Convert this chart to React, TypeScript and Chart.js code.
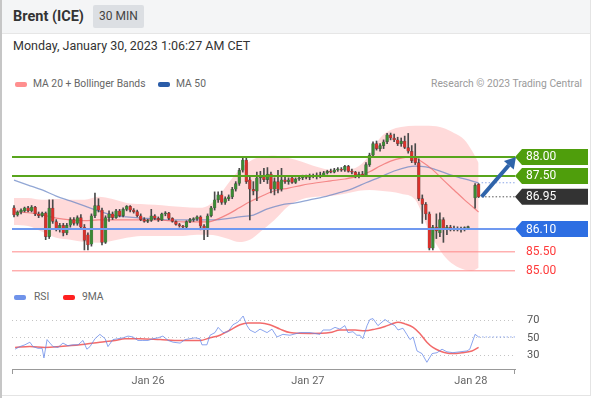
import React, { useEffect, useRef } from "react";
import { Chart, registerables } from "chart.js";
Chart.register(...registerables);

// ---------- candle data (index 130 = weekend gap) ----------
const openP = [86.66,86.47,86.55,86.58,86.66,86.58,86.68,86.5,86.45,86.52,
 85.9,86.65,86.3,86.1,86.2,86.0,86.2,86.35,86.25,86.4,
 86.15,85.95,85.7,86.45,86.72,86.6,85.75,86.4,86.5,86.4,
 86.58,86.45,86.62,86.7,86.6,86.56,86.45,86.35,86.3,86.33,
 86.45,86.38,86.34,86.5,86.52,86.38,86.3,86.22,86.18,86.15,
 86.3,86.35,86.37,86.42,86.18,86.1,86.45,86.66,86.87,87.0,
 86.8,86.9,86.95,87.15,87.3,87.65,87.92,87.4,87.15,87.1,
 87.45,87.5,87.4,87.55,87.15,87.35,87.15,87.4,87.35,87.45,
 87.33,87.42,87.45,87.48,87.46,87.5,87.48,87.52,87.5,87.58,
 87.62,87.6,87.66,87.68,87.65,87.75,87.62,87.6,87.5,87.55,
 87.52,87.8,88.05,88.35,88.22,88.3,88.4,88.58,88.5,88.45,
 88.35,88.42,88.25,88.15,88.0,87.85,86.9,86.75,86.5,85.6,
 86.15,86.0,86.35,86.1,86.15,86.1,86.12,86.08,86.1,86.14,
 null,86.92,87.28];
const highP = [86.72,86.58,86.63,86.68,86.7,86.72,86.7,86.55,86.55,86.55,
 86.87,86.87,86.35,86.25,86.25,86.25,86.4,86.4,86.45,86.48,
 86.22,86.0,86.5,87.05,86.9,86.65,86.45,86.58,86.55,86.62,
 86.62,86.66,86.72,86.72,86.64,86.6,86.5,86.4,86.36,86.62,
 86.48,86.42,86.52,86.56,86.54,86.4,86.32,86.25,86.2,86.32,
 86.38,86.4,86.45,86.45,86.22,86.5,86.7,87.08,87.08,87.1,
 86.95,87.0,87.2,87.35,87.7,87.97,88.0,87.5,87.35,87.6,
 87.62,87.7,87.72,87.6,87.45,87.65,87.7,87.5,87.45,87.5,
 87.45,87.5,87.52,87.52,87.55,87.55,87.58,87.6,87.62,87.65,
 87.68,87.7,87.72,87.72,87.78,87.78,87.68,87.62,87.6,87.62,
 87.85,88.1,88.4,88.42,88.35,88.45,88.62,88.63,88.6,88.52,
 88.5,88.55,88.62,88.3,88.35,87.95,87.0,86.8,86.55,86.2,
 86.5,86.53,86.4,86.2,86.2,86.18,86.16,86.15,86.16,86.18,
 null,87.3,87.3];
const lowP = [86.42,86.44,86.5,86.55,86.55,86.55,86.45,86.4,86.42,85.82,
 85.85,86.25,86.05,86.02,85.92,85.95,86.15,86.2,86.2,86.1,
 85.55,85.55,85.65,86.4,86.55,85.68,85.72,86.3,86.35,86.38,
 86.42,86.42,86.58,86.55,86.52,86.42,86.32,86.28,86.27,86.3,
 86.35,86.3,86.32,86.45,86.35,86.28,86.2,86.15,86.12,86.12,
 86.27,86.3,86.33,86.08,85.82,85.9,86.42,86.6,86.8,86.75,
 86.75,86.85,86.9,87.1,87.25,87.6,87.3,86.34,87.0,86.85,
 87.3,87.35,87.3,87.05,87.0,87.05,87.1,87.3,87.28,87.3,
 87.3,87.38,87.4,87.42,87.4,87.45,87.42,87.45,87.48,87.55,
 87.58,87.58,87.62,87.62,87.62,87.6,87.55,87.45,87.45,87.48,
 87.5,87.75,88.0,88.18,88.15,88.22,88.35,88.45,88.4,88.3,
 88.28,88.22,88.1,87.85,87.8,86.85,86.25,86.35,85.55,85.55,
 85.85,85.9,85.75,85.95,86.05,86.05,86.05,86.02,86.05,86.1,
 null,86.65,86.93];
const closeP = [86.47,86.55,86.6,86.66,86.58,86.68,86.5,86.45,86.52,85.9,
 86.65,86.3,86.1,86.2,86.0,86.2,86.35,86.25,86.4,86.15,
 85.8,85.68,86.45,86.72,86.6,85.75,86.4,86.5,86.4,86.58,
 86.45,86.62,86.7,86.6,86.56,86.45,86.35,86.3,86.33,86.45,
 86.38,86.34,86.5,86.52,86.38,86.3,86.22,86.18,86.15,86.3,
 86.35,86.37,86.42,86.18,86.1,86.45,86.66,86.87,87.0,86.8,
 86.9,86.95,87.15,87.3,87.65,87.92,87.35,87.15,87.1,87.45,
 87.5,87.4,87.55,87.15,87.35,87.15,87.4,87.35,87.4,87.33,
 87.42,87.45,87.48,87.46,87.5,87.48,87.52,87.5,87.58,87.62,
 87.6,87.66,87.68,87.65,87.75,87.62,87.6,87.5,87.55,87.52,
 87.8,88.05,88.35,88.22,88.3,88.4,88.58,88.5,88.45,88.35,
 88.42,88.25,88.15,87.9,87.85,86.9,86.75,86.5,85.6,86.15,
 86.05,86.35,86.1,86.15,86.1,86.12,86.08,86.1,86.14,86.15,
 null,87.25,86.95];

// ---------- indicators (x = candle index) ----------
const bandIdx = [0,4,8,12,16,20,24,28,32,36,40,44,48,52,55,58,61,64,67,70,74,78,82,86,90,94,98,101,104,107,110,114,118,122,125,128,130,132];
const upperBand = [86.92,86.92,86.87,86.89,86.87,86.87,86.95,86.89,86.79,86.76,86.74,86.71,86.68,86.66,86.71,86.95,87.32,87.66,87.89,88.0,88.03,87.97,87.87,87.74,87.66,87.66,87.76,88.05,88.5,88.71,88.79,88.82,88.82,88.76,88.63,88.45,88.18,87.84];
const lowerBand = [86.21,86.18,86.03,85.87,85.82,85.76,85.74,85.79,85.87,85.92,85.92,85.92,85.92,85.95,85.95,85.92,85.84,85.76,85.82,86.03,86.34,86.71,86.89,86.95,86.97,87.03,87.11,87.13,87.11,87.08,87.03,86.87,86.03,85.42,85.16,85.03,85.0,85.08];
const ma20Idx = [0,4,8,12,16,20,24,28,32,36,40,44,48,52,55,58,61,64,67,70,74,78,82,86,90,94,98,101,104,107,110,113,116,119,122,125,128,130,132];
const ma20 = [86.55,86.53,86.47,86.39,86.34,86.32,86.34,86.34,86.34,86.34,86.34,86.32,86.29,86.29,86.29,86.37,86.5,86.66,86.82,86.95,87.11,87.18,87.26,87.32,87.37,87.42,87.5,87.61,87.76,87.89,87.97,88.0,87.87,87.66,87.39,87.13,86.87,86.71,86.55];
const ma50Idx = [0,4,8,12,16,20,24,28,32,36,40,44,48,52,56,60,64,68,72,76,80,84,88,92,96,100,104,108,112,114,117,120,124,128,132];
const ma50 = [87.39,87.26,87.13,86.97,86.84,86.71,86.58,86.47,86.42,86.39,86.37,86.34,86.34,86.34,86.34,86.37,86.42,86.47,86.63,86.74,86.79,86.87,86.95,87.05,87.16,87.32,87.47,87.63,87.74,87.76,87.74,87.66,87.53,87.42,87.32];

const rsiIdx = [0.3,1.7,3.1,4.5,5.4,6.8,8.0,8.5,9.4,10.2,11.1,12.5,13.9,15.3,16.8,18.2,19.6,20.7,21.6,23.0,24.4,25.9,26.7,28.1,29.5,31.0,32.4,33.8,35.2,36.6,38.1,39.5,40.9,42.3,43.8,45.2,47.2,48.6,50.0,51.4,52.8,53.4,54.8,55.7,57.1,58.0,59.4,60.8,62.2,63.6,65.1,66.2,67.0,68.5,69.9,71.9,73.3,74.7,76.4,78.4,81.3,84.1,86.9,87.8,89.8,91.2,92.6,94.0,94.9,96.3,97.4,98.3,99.1,100.3,101.1,102.0,103.4,105.4,106.8,108.2,109.1,110.5,111.6,112.5,113.4,114.5,115.9,117.3,118.8,120.2,121.6,123.0,124.7,126.7,128.7,129.5,131,132];
const rsiVal = [37,40,42,45,40,38,38,27,48,44,40,39,44,41,42,42,47,37,40,49,54,49,40,48,49,50,52,51,47,47,47,49,50,52,47,45,44,48,49,50,49,42,42,53,56,62,56,57,65,68,75,64,59,56,60,56,60,51,54,53,56,56,54,59,59,62,60,64,56,57,53,53,49,64,71,72,64,71,67,64,59,61,54,48,51,35,32,22,32,33,37,34,33,34,35,37,54,51];
const rsiMaIdx = [0.3,4.5,8.8,13.1,18.8,24.4,28.7,31.5,35.8,41.5,47.2,52.8,55.7,58.5,61.4,64.2,66.5,69.9,72.7,75.6,78.4,84.1,89.8,92.6,96.9,99.7,102.6,105.4,107.4,109.1,111.1,113.4,115.3,117.3,119,121,124.4,127.3,130.1,132];
const rsiMa = [39,40,39,40,42,45,47,49,49,48,47,47,50,53,59,65,67,67,65,60,56,55,56,59,59,58,60,63,66,68,66,62,55,45,39,35,32,33,35,39];
const rsiLast = 51;

const levelValues = [88.0, 87.5, 86.95, 86.1, 85.5, 85.0];
const levelLabels = ["88.00", "87.50", "86.95", "86.10", "85.50", "85.00"];
const rsiTicks = [30, 50, 70];
const dayTickIdx = [38.1, 83.5, 129.8];
const dayTickLabels = ["Jan 26", "Jan 27", "Jan 28"];

// ---------- styles ----------
const X_MIN = -0.57;
const X_MAX = 142.34;
const LAST_IDX = 132;
const GREEN = "#58a51c";
const GREEN_TAG = "#4f9e0c";
const BLUE_LINE = "#7099f0";
const BLUE_TAG = "#2d6ee2";
const RED_LINE = "#ff8a8a";
const RED_TEXT = "#ff3b3b";
const DARK_TAG = "#333333";
const ARROW = "#2f64aa";
const UP = "#3a8a34";
const DOWN = "#d8312b";
const FONT = "Roboto, 'Liberation Sans', sans-serif";
const levelStyles = [
  { line: GREEN, width: 2, tag: GREEN_TAG, text: "#fff" },
  { line: GREEN, width: 2, tag: GREEN_TAG, text: "#fff" },
  { line: null, width: 0, tag: DARK_TAG, text: "#fff" },
  { line: BLUE_LINE, width: 2, tag: BLUE_TAG, text: "#fff" },
  { line: RED_LINE, width: 1, tag: null, text: RED_TEXT },
  { line: RED_LINE, width: 1, tag: null, text: RED_TEXT },
];

const pts = (xs: number[], ys: number[]) => xs.map((x, i) => ({ x, y: ys[i] }));

const mainOverlay = {
  id: "mainOverlay",
  afterDraw(chart: any) {
    const { ctx, chartArea, scales } = chart;
    const xs = scales.x, ys = scales.y;
    const right = chartArea.right;
    const tagRight = chart.width - 5;
    const lastX = xs.getPixelForValue(LAST_IDX);
    const lastY = ys.getPixelForValue(closeP[LAST_IDX] as number);
    ctx.save();
    ctx.lineWidth = 1;
    ctx.setLineDash([1.5, 2]);
    const m50y = ys.getPixelForValue(ma50[ma50.length - 1]);
    ctx.strokeStyle = "#8aa6e6";
    ctx.beginPath(); ctx.moveTo(lastX + 3, m50y); ctx.lineTo(right, m50y); ctx.stroke();
    ctx.strokeStyle = "#555";
    ctx.beginPath(); ctx.moveTo(lastX + 3, lastY); ctx.lineTo(right, lastY); ctx.stroke();
    ctx.setLineDash([]);

    ctx.font = "12px " + FONT;
    ctx.textBaseline = "middle";
    ctx.textAlign = "left";
    levelValues.forEach((v, i) => {
      const py = ys.getPixelForValue(v);
      const st = levelStyles[i];
      if (st.tag) {
        ctx.fillStyle = st.tag;
        ctx.beginPath();
        ctx.moveTo(right, py);
        ctx.lineTo(right + 7, py - 8);
        ctx.lineTo(tagRight, py - 8);
        ctx.lineTo(tagRight, py + 8);
        ctx.lineTo(right + 7, py + 8);
        ctx.closePath();
        ctx.fill();
      }
      ctx.fillStyle = st.text;
      ctx.fillText(levelLabels[i], right + 11, py + 0.5);
    });

    // arrow
    const ax0 = lastX + 3, ay0 = lastY;
    const ax1 = right + 1, ay1 = ys.getPixelForValue(levelValues[0]);
    const ang = Math.atan2(ay1 - ay0, ax1 - ax0);
    const hl = 11, hw = 6.5;
    const bx = ax1 - hl * Math.cos(ang), by = ay1 - hl * Math.sin(ang);
    ctx.strokeStyle = ARROW;
    ctx.lineWidth = 4;
    ctx.beginPath(); ctx.moveTo(ax0, ay0); ctx.lineTo(bx, by); ctx.stroke();
    ctx.fillStyle = ARROW;
    ctx.beginPath();
    ctx.moveTo(ax1, ay1);
    ctx.lineTo(bx + hw * Math.sin(ang), by - hw * Math.cos(ang));
    ctx.lineTo(bx - hw * Math.sin(ang), by + hw * Math.cos(ang));
    ctx.closePath();
    ctx.fill();
    ctx.restore();
  },
};

const rsiOverlay = {
  id: "rsiOverlay",
  afterDraw(chart: any) {
    const { ctx, chartArea } = chart;
    ctx.save();
    ctx.strokeStyle = "#999";
    ctx.lineWidth = 1;
    ctx.beginPath();
    ctx.moveTo(chartArea.left + 0.5, chartArea.bottom);
    ctx.lineTo(chartArea.left + 0.5, chartArea.bottom + 5);
    ctx.moveTo(chartArea.right - 0.5, chartArea.bottom);
    ctx.lineTo(chartArea.right - 0.5, chartArea.bottom + 5);
    ctx.stroke();
    ctx.restore();
  },
};

export default function App() {
  const mainRef = useRef<HTMLCanvasElement>(null);
  const rsiRef = useRef<HTMLCanvasElement>(null);

  useEffect(() => {
    Chart.defaults.font.family = FONT;
    const idx = openP.map((_, i) => i).filter((i) => openP[i] !== null);
    const wicks = idx.map((i) => ({ x: i, y: [lowP[i], highP[i]] }));
    const bodies = idx.map((i) => ({ x: i, y: [openP[i], closeP[i]] }));
    const bodyColors = idx.map((i) => ((closeP[i] as number) >= (openP[i] as number) ? UP : DOWN));

    const levelSets: any[] = levelValues
      .map((v, i) => ({ v, st: levelStyles[i] }))
      .filter((o) => o.st.line)
      .map((o) => ({
        type: "line",
        data: [{ x: X_MIN, y: o.v }, { x: X_MAX, y: o.v }],
        borderColor: o.st.line,
        borderWidth: o.st.width,
        pointRadius: 0,
        order: -1,
      }));

    const main = new Chart(mainRef.current as HTMLCanvasElement, {
      type: "bar",
      data: {
        datasets: [
          ...levelSets,
          {
            type: "bar",
            data: bodies as any,
            backgroundColor: bodyColors,
            borderColor: "rgba(40,40,40,0.55)",
            borderWidth: 0.5,
            borderSkipped: false,
            barThickness: 3,
            minBarLength: 1,
            grouped: false,
            order: 0,
          },
          {
            type: "bar",
            data: wicks as any,
            backgroundColor: "#4a4a4a",
            barThickness: 1,
            grouped: false,
            order: 1,
          },
          {
            type: "line",
            data: pts(ma20Idx, ma20),
            borderColor: "rgba(240,100,100,0.7)",
            borderWidth: 1.2,
            pointRadius: 0,
            tension: 0.4,
            cubicInterpolationMode: "monotone",
            order: 2,
          },
          {
            type: "line",
            data: pts(ma50Idx, ma50),
            borderColor: "rgba(100,130,195,0.7)",
            borderWidth: 1.3,
            pointRadius: 0,
            tension: 0.4,
            cubicInterpolationMode: "monotone",
            order: 2,
          },
          {
            type: "line",
            data: pts(bandIdx, upperBand),
            borderWidth: 0,
            borderColor: "rgba(0,0,0,0)",
            backgroundColor: "rgba(255,135,135,0.31)",
            fill: "+1",
            pointRadius: 0,
            tension: 0.4,
            cubicInterpolationMode: "monotone",
            order: 3,
          },
          {
            type: "line",
            data: pts(bandIdx, lowerBand),
            borderWidth: 0,
            borderColor: "rgba(0,0,0,0)",
            fill: false,
            pointRadius: 0,
            tension: 0.4,
            cubicInterpolationMode: "monotone",
            order: 3,
          },
        ] as any,
      },
      options: {
        animation: false,
        responsive: false,
        maintainAspectRatio: false,
        layout: { padding: { left: 12, right: 78, top: 9, bottom: 4 } },
        plugins: { legend: { display: false }, tooltip: { enabled: false } },
        scales: {
          x: { type: "linear", min: X_MIN, max: X_MAX, display: false, offset: false },
          y: { type: "linear", min: 84.6, max: 89.0, display: false },
        },
      },
      plugins: [mainOverlay],
    });

    const rsi = new Chart(rsiRef.current as HTMLCanvasElement, {
      type: "line",
      data: {
        datasets: [
          {
            data: pts(rsiIdx, rsiVal),
            borderColor: "rgba(100,135,232,0.75)",
            borderWidth: 1,
            pointRadius: 0,
            tension: 0,
          },
          {
            data: [{ x: LAST_IDX, y: rsiLast }, { x: X_MAX, y: rsiLast }],
            borderColor: "rgba(100,135,232,0.7)",
            borderWidth: 1,
            borderDash: [1.5, 2],
            pointRadius: 0,
          },
          {
            data: pts(rsiMaIdx, rsiMa),
            borderColor: "rgba(240,80,80,0.85)",
            borderWidth: 1.5,
            pointRadius: 0,
            tension: 0.4,
            cubicInterpolationMode: "monotone",
          },
        ] as any,
      },
      options: {
        animation: false,
        responsive: false,
        maintainAspectRatio: false,
        layout: { padding: { left: 12, right: 0, top: 15, bottom: 0 } },
        plugins: { legend: { display: false }, tooltip: { enabled: false } },
        scales: {
          x: {
            type: "linear",
            min: X_MIN,
            max: X_MAX,
            offset: false,
            afterBuildTicks: (s: any) => {
              s.ticks = dayTickIdx.map((v) => ({ value: v }));
            },
            afterFit: (s: any) => {
              s.height = 26;
            },
            ticks: {
              callback: (_v: any, i: number) => dayTickLabels[i],
              color: "#666",
              font: { size: 11 },
              padding: 6,
              maxRotation: 0,
              autoSkip: false,
            },
            grid: { display: false, drawTicks: false },
            border: { display: true, color: "#999", width: 1 },
          },
          y: {
            position: "right",
            min: 14.3,
            max: 83.5,
            afterBuildTicks: (s: any) => {
              s.ticks = rsiTicks.map((v) => ({ value: v }));
            },
            afterFit: (s: any) => {
              s.width = 78;
            },
            ticks: { color: "#555", font: { size: 11 }, padding: 12 },
            grid: { color: "#c4c4c4", drawTicks: false, borderDash: [1, 3] } as any,
            border: { display: false, dash: [1, 3] },
          },
        },
      },
      plugins: [rsiOverlay],
    });

    return () => {
      main.destroy();
      rsi.destroy();
    };
  }, []);

  const legendText: React.CSSProperties = {
    position: "absolute",
    fontSize: 10.3,
    lineHeight: "12px",
    color: "#666",
    whiteSpace: "nowrap",
  };
  const swatch = (left: number, top: number, color: string): React.CSSProperties => ({
    position: "absolute",
    left,
    top,
    width: 12,
    height: 5,
    borderRadius: 2,
    background: color,
  });

  return (
    <div
      style={{
        position: "fixed",
        left: 0,
        top: 0,
        width: 593,
        height: 398,
        background: "#fff",
        fontFamily: FONT,
        overflow: "hidden",
      }}
    >
      <div style={{ position: "absolute", left: 0, top: 0, width: 590, height: 395, borderRight: "1px solid #e4e4e4", borderBottom: "1px solid #e4e4e4" }} />
      <div style={{ position: "absolute", left: 2, top: 0, width: 588, height: 33, background: "#f4f5f6", borderBottom: "1px solid #e6e6e6" }} />
      <div style={{ position: "absolute", left: 0, top: 0, width: 2, height: 398, background: "#c6c6c6" }} />
      <div style={{ position: "absolute", left: 13, top: 8, fontSize: 14.5, lineHeight: "18px", fontWeight: 700, color: "#333", whiteSpace: "nowrap" }}>
        Brent (ICE)
      </div>
      <div
        style={{
          position: "absolute",
          left: 93,
          top: 5,
          width: 51,
          height: 23,
          lineHeight: "23px",
          background: "#dcdfe3",
          borderRadius: 2,
          textAlign: "center",
          fontSize: 12,
          color: "#444",
        }}
      >
        30 MIN
      </div>
      <div style={{ position: "absolute", left: 13, top: 38, fontSize: 12.5, lineHeight: "16px", color: "#333", whiteSpace: "nowrap" }}>
        Monday, January 30, 2023 1:06:27 AM CET
      </div>

      <div style={swatch(15, 82, "#ff8f8f")} />
      <div style={{ ...legendText, left: 33, top: 78 }}>MA 20 + Bollinger Bands</div>
      <div style={swatch(158, 82, "#2a5ca8")} />
      <div style={{ ...legendText, left: 176, top: 78 }}>MA 50</div>
      <div style={{ ...legendText, right: 11, top: 78, color: "#9a9a9a" }}>Research © 2023 Trading Central</div>

      <canvas ref={mainRef} width={593} height={180} style={{ position: "absolute", left: 0, top: 110, width: 593, height: 180 }} />

      <div style={swatch(14, 295, "#6f93ea")} />
      <div style={{ ...legendText, left: 34, top: 291 }}>RSI</div>
      <div style={swatch(63, 295, "#ff2020")} />
      <div style={{ ...legendText, left: 82, top: 291 }}>9MA</div>

      <canvas ref={rsiRef} width={593} height={105} style={{ position: "absolute", left: 0, top: 290, width: 593, height: 105 }} />
    </div>
  );
}
